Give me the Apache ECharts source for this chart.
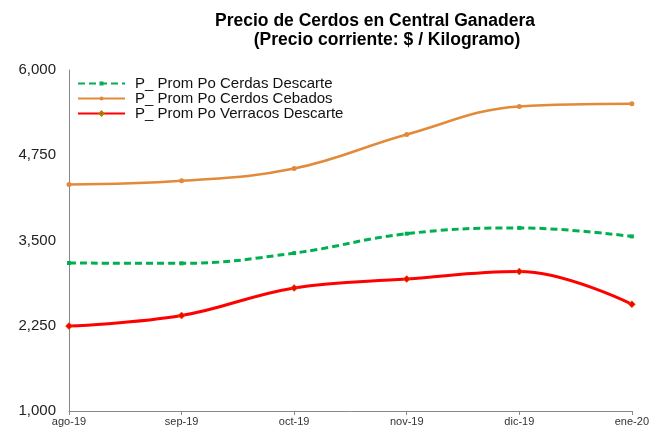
<!DOCTYPE html>
<html>
<head>
<meta charset="utf-8">
<script src="https://cdn.jsdelivr.net/npm/echarts@6/dist/echarts.min.js"></script>
<style>
  html, body { margin: 0; padding: 0; background: #fff; }
  #chart { width: 652px; height: 427px; }
</style>
</head>
<body>
<div id="chart"></div>
<script>
var months = ['ago-19', 'sep-19', 'oct-19', 'nov-19', 'dic-19', 'ene-20'];
var cerdasDescarte = [3170, 3165, 3315, 3600, 3685, 3560];
var cerdosCebados = [4320, 4375, 4555, 5055, 5465, 5505];
var verracosDescarte = [2245, 2400, 2805, 2935, 3045, 2565];

var chart = echarts.init(document.getElementById('chart'));

var option = {
    animation: false,
    textStyle: { fontFamily: 'Liberation Sans, Arial, sans-serif' },
    title: [
        {
            text: 'Precio de Cerdos en Central Ganadera',
            left: 375, top: 12, textAlign: 'center', padding: 0,
            textStyle: { fontSize: 17.5, fontWeight: 'bold', color: '#000', lineHeight: 18 }
        },
        {
            text: '(Precio corriente: $ / Kilogramo)',
            left: 387, top: 31, textAlign: 'center', padding: 0,
            textStyle: { fontSize: 17.5, fontWeight: 'bold', color: '#000', lineHeight: 18 }
        }
    ],
    legend: {
        orient: 'vertical',
        left: 77, top: 76, padding: 0,
        itemWidth: 47, itemHeight: 5, itemGap: 0,
        textStyle: { fontSize: 15, color: '#111', lineHeight: 15, padding: [0, 0, 0, 5] },
        data: ['P_ Prom Po Cerdas Descarte', 'P_ Prom Po Cerdos Cebados', 'P_ Prom Po Verracos Descarte']
    },
    grid: { left: 69, right: 18, top: 70, bottom: 15 },
    xAxis: {
        type: 'category',
        data: months,
        boundaryGap: false,
        axisLine: { lineStyle: { color: '#888', width: 1 } },
        axisTick: { show: true, length: 4, lineStyle: { color: '#888' } },
        axisLabel: { fontSize: 11, color: '#333', margin: 5, showMaxLabel: true }
    },
    yAxis: {
        type: 'value',
        min: 1000, max: 6000, interval: 1250,
        splitLine: { show: false },
        axisLine: { show: true, lineStyle: { color: '#888', width: 1 } },
        axisTick: { show: false },
        axisLabel: {
            fontSize: 15, color: '#222', margin: 13,
            formatter: function (v) { return v.toLocaleString('en-US'); }
        }
    },
    series: [
        {
            name: 'P_ Prom Po Cerdas Descarte',
            type: 'line', smooth: 0.4,
            data: cerdasDescarte,
            symbol: 'rect', symbolSize: 4,
            itemStyle: { color: '#00B050' },
            lineStyle: { color: '#00B050', width: 3, type: [7, 4] }
        },
        {
            name: 'P_ Prom Po Cerdos Cebados',
            type: 'line', smooth: 0.4,
            data: cerdosCebados,
            symbol: 'circle', symbolSize: 5,
            itemStyle: { color: '#E3893A' },
            lineStyle: { color: '#E3893A', width: 2.5 }
        },
        {
            name: 'P_ Prom Po Verracos Descarte',
            type: 'line', smooth: 0.4,
            data: verracosDescarte,
            symbol: 'diamond', symbolSize: 7,
            itemStyle: { color: '#FF0000', borderColor: '#B08000', borderWidth: 0.6 },
            lineStyle: { color: '#FF0000', width: 3 }
        }
    ]
};

chart.setOption(option);
</script>
</body>
</html>
